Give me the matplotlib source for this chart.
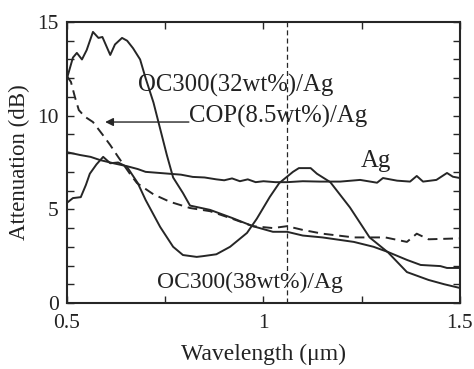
import matplotlib
matplotlib.use("Agg")
import matplotlib.pyplot as plt

plt.rcParams["font.family"] = ["Liberation Serif", "DejaVu Serif"]

# ── data ───────────────────────────────────────────────────────────────────
oc32_x = [0.5, 0.515, 0.525, 0.538, 0.55, 0.566, 0.58, 0.59, 0.61, 0.622, 0.64,
          0.653, 0.668, 0.686, 0.70, 0.72, 0.737, 0.754, 0.77, 0.795, 0.813,
          0.864, 0.92, 0.973, 1.024, 1.06, 1.1, 1.15, 1.23, 1.28, 1.317, 1.365,
          1.40, 1.45, 1.467, 1.5]
oc32_y = [12.0, 13.1, 13.35, 13.0, 13.5, 14.47, 14.15, 14.2, 13.24, 13.8, 14.15,
          14.0, 13.6, 13.0, 12.0, 10.7, 9.3, 7.9, 6.7, 5.87, 5.2,
          4.97, 4.54, 4.1, 3.8, 3.8, 3.6, 3.5, 3.26, 3.0, 2.72, 2.3,
          2.03, 1.97, 1.87, 1.87]

oc38_x = [0.5, 0.515, 0.535, 0.548, 0.558, 0.575, 0.592, 0.61, 0.63, 0.653,
          0.68, 0.70, 0.737, 0.77, 0.795, 0.83, 0.846, 0.88, 0.915, 0.958,
          0.983, 1.016, 1.04, 1.075, 1.09, 1.12, 1.136, 1.17, 1.22, 1.27,
          1.317, 1.365, 1.42, 1.46, 1.5]
oc38_y = [5.35, 5.6, 5.65, 6.3, 6.9, 7.4, 7.8, 7.46, 7.5, 7.26,
          6.4, 5.5, 4.06, 3.0, 2.56, 2.46, 2.5, 2.6, 3.0, 3.74,
          4.5, 5.66, 6.4, 7.0, 7.2, 7.2, 6.9, 6.45, 5.1, 3.5,
          2.7, 1.65, 1.23, 1.0, 0.8]

ag_x = [0.5, 0.533, 0.56, 0.584, 0.62, 0.653, 0.68, 0.70, 0.73, 0.76, 0.79,
        0.82, 0.85, 0.88, 0.90, 0.92, 0.94, 0.96, 0.98, 1.0, 1.03, 1.06, 1.1,
        1.144, 1.195, 1.246, 1.289, 1.304, 1.34, 1.373, 1.39, 1.406, 1.44,
        1.467, 1.482, 1.5]
ag_y = [8.05, 7.9, 7.8, 7.63, 7.45, 7.3, 7.15, 7.0, 6.95, 6.9, 6.85,
        6.73, 6.7, 6.6, 6.55, 6.65, 6.5, 6.6, 6.45, 6.5, 6.45, 6.45, 6.5,
        6.48, 6.48, 6.57, 6.42, 6.67, 6.53, 6.48, 6.78, 6.48, 6.57,
        6.94, 6.74, 6.67]

cop_x = [0.5, 0.51, 0.52, 0.53, 0.545, 0.566, 0.59, 0.61, 0.63, 0.66, 0.678,
         0.72, 0.762, 0.813, 0.864, 0.92, 0.973, 1.024, 1.06, 1.1, 1.15, 1.23,
         1.31, 1.365, 1.39, 1.42, 1.5]
cop_y = [12.1, 11.8, 11.0, 10.3, 9.95, 9.66, 9.0, 8.43, 7.8, 6.9, 6.4,
         5.8, 5.4, 5.07, 4.9, 4.5, 4.1, 4.0, 4.1, 3.9, 3.7, 3.5,
         3.5, 3.26, 3.7, 3.4, 3.45]

marker_wl = 1.06
x_ticks = [0.5, 0.75, 1.0, 1.25, 1.5]
x_ticklabels = ["0.5", "", "1", "", "1.5"]
y_ticks = [0, 5, 10, 15]

# ── figure ────────────────────────────────────────────────────────────────
fig = plt.figure(figsize=(4.74, 3.69), dpi=100)
ax = fig.add_axes([0.1414, 0.1789, 0.829, 0.7615])

ink = "#262626"
txt = "#222222"
lw = 1.4
ax.plot(oc32_x, oc32_y, color=ink, lw=lw)
ax.plot(oc38_x, oc38_y, color=ink, lw=lw)
ax.plot(ag_x, ag_y, color=ink, lw=lw)
ax.plot(cop_x, cop_y, color=ink, lw=lw, linestyle=(0, (5, 3)))
ax.axvline(marker_wl, color=ink, lw=0.9, linestyle=(0, (4, 2.5)))

ax.set_xlim(0.5, 1.5)
ax.set_ylim(0, 15)
ax.set_xticks(x_ticks, x_ticklabels)
ax.set_yticks(y_ticks)
ax.set_yticks(range(0, 16), minor=True)
ax.tick_params(which="both", direction="in", top=True, right=True,
               labelsize=15.5, color=ink, labelcolor=txt, width=1.0, length=5)
ax.tick_params(axis="x", which="major", pad=8)
ax.tick_params(axis="y", which="major", pad=6)
for s in ax.spines.values():
    s.set_linewidth(1.5)
    s.set_color(ink)

ax.set_xlabel("Wavelength (μm)", fontsize=17, color=txt, labelpad=8)
ax.set_ylabel("Attenuation (dB)", fontsize=16.5, color=txt, labelpad=5)

# ── annotations ───────────────────────────────────────────────────────────
ax.text(0.68, 11.6, "OC300(32wt%)/Ag", fontsize=17.8, va="center", color=txt)
ax.text(0.81, 9.95, "COP(8.5wt%)/Ag", fontsize=17.8, va="center", color=txt)
ax.annotate("", xy=(0.597, 9.66), xytext=(0.81, 9.66),
            arrowprops=dict(arrowstyle="-|>", color=ink, lw=1.0,
                            mutation_scale=12, shrinkA=0, shrinkB=0))
ax.text(1.286, 7.6, "Ag", fontsize=17.8, va="center", ha="center", color=txt)
ax.text(0.73, 1.1, "OC300(38wt%)/Ag", fontsize=17, va="center", color=txt)

fig.savefig("out.png", dpi=100)
